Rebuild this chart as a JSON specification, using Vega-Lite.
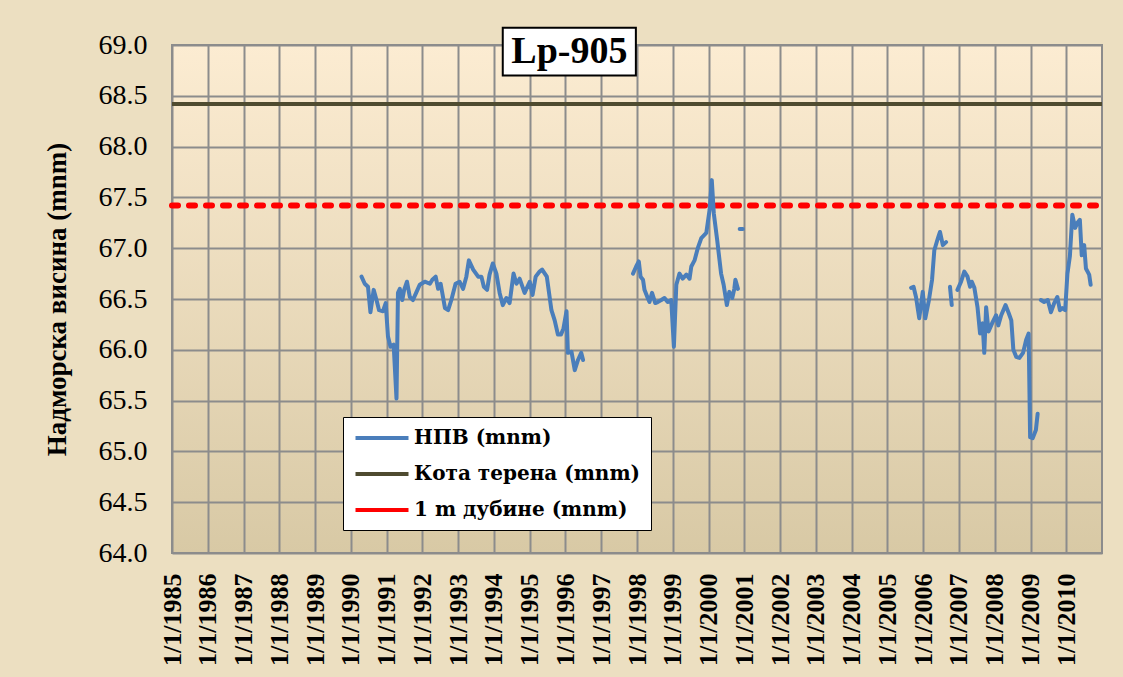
{
  "$schema": "https://vega.github.io/schema/vega-lite/v6.json",
  "width": 930,
  "height": 508,
  "autosize": {"type": "none"},
  "padding": {"left": 172, "top": 45, "right": 21, "bottom": 124},
  "background": "#ecdfc1",
  "config": {
    "view": {
      "stroke": "#8c8c8c",
      "strokeWidth": 2,
      "fill": {"gradient": "linear", "x1": 0, "y1": 0, "x2": 0, "y2": 1,
        "stops": [{"offset": 0, "color": "#fcecd2"}, {"offset": 1, "color": "#d8c9a5"}]}
    }
  },
  "datasets": {
    "series": [
      {"d": "1985-01-01", "v": 68.42, "s": "Кота терена (mnm)", "g": "k"},
      {"d": "2010-12-31", "v": 68.42, "s": "Кота терена (mnm)", "g": "k"},
      {"d": "1985-01-01", "v": 67.42, "s": "1 m дубине (mnm)", "g": "r"},
      {"d": "2010-12-31", "v": 67.42, "s": "1 m дубине (mnm)", "g": "r"},
      {"d": "1990-04-20", "v": 66.72, "s": "НПВ (mnm)", "g": "a"},
      {"d": "1990-05-23", "v": 66.65, "s": "НПВ (mnm)", "g": "a"},
      {"d": "1990-06-25", "v": 66.62, "s": "НПВ (mnm)", "g": "a"},
      {"d": "1990-07-20", "v": 66.37, "s": "НПВ (mnm)", "g": "a"},
      {"d": "1990-08-22", "v": 66.59, "s": "НПВ (mnm)", "g": "a"},
      {"d": "1990-09-20", "v": 66.49, "s": "НПВ (mnm)", "g": "a"},
      {"d": "1990-10-16", "v": 66.39, "s": "НПВ (mnm)", "g": "a"},
      {"d": "1990-11-25", "v": 66.38, "s": "НПВ (mnm)", "g": "a"},
      {"d": "1990-12-23", "v": 66.46, "s": "НПВ (mnm)", "g": "a"},
      {"d": "1991-01-15", "v": 66.13, "s": "НПВ (mnm)", "g": "a"},
      {"d": "1991-02-10", "v": 66.03, "s": "НПВ (mnm)", "g": "a"},
      {"d": "1991-03-14", "v": 66.05, "s": "НПВ (mnm)", "g": "a"},
      {"d": "1991-04-12", "v": 65.52, "s": "НПВ (mnm)", "g": "a"},
      {"d": "1991-04-27", "v": 66.56, "s": "НПВ (mnm)", "g": "a"},
      {"d": "1991-05-16", "v": 66.60, "s": "НПВ (mnm)", "g": "a"},
      {"d": "1991-06-10", "v": 66.49, "s": "НПВ (mnm)", "g": "a"},
      {"d": "1991-06-29", "v": 66.59, "s": "НПВ (mnm)", "g": "a"},
      {"d": "1991-07-28", "v": 66.67, "s": "НПВ (mnm)", "g": "a"},
      {"d": "1991-08-26", "v": 66.52, "s": "НПВ (mnm)", "g": "a"},
      {"d": "1991-09-27", "v": 66.49, "s": "НПВ (mnm)", "g": "a"},
      {"d": "1991-11-03", "v": 66.57, "s": "НПВ (mnm)", "g": "a"},
      {"d": "1991-12-05", "v": 66.64, "s": "НПВ (mnm)", "g": "a"},
      {"d": "1992-01-26", "v": 66.67, "s": "НПВ (mnm)", "g": "a"},
      {"d": "1992-03-18", "v": 66.65, "s": "НПВ (mnm)", "g": "a"},
      {"d": "1992-04-12", "v": 66.69, "s": "НПВ (mnm)", "g": "a"},
      {"d": "1992-05-16", "v": 66.72, "s": "НПВ (mnm)", "g": "a"},
      {"d": "1992-06-10", "v": 66.60, "s": "НПВ (mnm)", "g": "a"},
      {"d": "1992-07-06", "v": 66.65, "s": "НПВ (mnm)", "g": "a"},
      {"d": "1992-08-19", "v": 66.41, "s": "НПВ (mnm)", "g": "a"},
      {"d": "1992-09-20", "v": 66.39, "s": "НПВ (mnm)", "g": "a"},
      {"d": "1992-10-23", "v": 66.49, "s": "НПВ (mnm)", "g": "a"},
      {"d": "1992-12-05", "v": 66.65, "s": "НПВ (mnm)", "g": "a"},
      {"d": "1993-01-15", "v": 66.67, "s": "НПВ (mnm)", "g": "a"},
      {"d": "1993-02-20", "v": 66.60, "s": "НПВ (mnm)", "g": "a"},
      {"d": "1993-03-25", "v": 66.72, "s": "НПВ (mnm)", "g": "a"},
      {"d": "1993-04-20", "v": 66.88, "s": "НПВ (mnm)", "g": "a"},
      {"d": "1993-06-03", "v": 66.79, "s": "НПВ (mnm)", "g": "a"},
      {"d": "1993-07-24", "v": 66.72, "s": "НПВ (mnm)", "g": "a"},
      {"d": "1993-08-26", "v": 66.72, "s": "НПВ (mnm)", "g": "a"},
      {"d": "1993-09-20", "v": 66.62, "s": "НПВ (mnm)", "g": "a"},
      {"d": "1993-10-23", "v": 66.59, "s": "НПВ (mnm)", "g": "a"},
      {"d": "1993-11-17", "v": 66.74, "s": "НПВ (mnm)", "g": "a"},
      {"d": "1993-12-20", "v": 66.85, "s": "НПВ (mnm)", "g": "a"},
      {"d": "1994-01-26", "v": 66.75, "s": "НПВ (mnm)", "g": "a"},
      {"d": "1994-02-28", "v": 66.56, "s": "НПВ (mnm)", "g": "a"},
      {"d": "1994-04-01", "v": 66.44, "s": "НПВ (mnm)", "g": "a"},
      {"d": "1994-05-08", "v": 66.51, "s": "НПВ (mnm)", "g": "a"},
      {"d": "1994-06-10", "v": 66.46, "s": "НПВ (mnm)", "g": "a"},
      {"d": "1994-07-20", "v": 66.75, "s": "НПВ (mnm)", "g": "a"},
      {"d": "1994-08-19", "v": 66.65, "s": "НПВ (mnm)", "g": "a"},
      {"d": "1994-09-20", "v": 66.70, "s": "НПВ (mnm)", "g": "a"},
      {"d": "1994-11-10", "v": 66.56, "s": "НПВ (mnm)", "g": "a"},
      {"d": "1995-01-01", "v": 66.67, "s": "НПВ (mnm)", "g": "a"},
      {"d": "1995-01-30", "v": 66.54, "s": "НПВ (mnm)", "g": "a"},
      {"d": "1995-03-03", "v": 66.72, "s": "НПВ (mnm)", "g": "a"},
      {"d": "1995-04-12", "v": 66.77, "s": "НПВ (mnm)", "g": "a"},
      {"d": "1995-05-08", "v": 66.79, "s": "НПВ (mnm)", "g": "a"},
      {"d": "1995-06-25", "v": 66.72, "s": "НПВ (mnm)", "g": "a"},
      {"d": "1995-08-11", "v": 66.39, "s": "НПВ (mnm)", "g": "a"},
      {"d": "1995-09-13", "v": 66.29, "s": "НПВ (mnm)", "g": "a"},
      {"d": "1995-10-16", "v": 66.15, "s": "НПВ (mnm)", "g": "a"},
      {"d": "1995-11-17", "v": 66.15, "s": "НПВ (mnm)", "g": "a"},
      {"d": "1995-12-12", "v": 66.21, "s": "НПВ (mnm)", "g": "a"},
      {"d": "1996-01-12", "v": 66.38, "s": "НПВ (mnm)", "g": "a"},
      {"d": "1996-01-26", "v": 65.97, "s": "НПВ (mnm)", "g": "a"},
      {"d": "1996-03-03", "v": 65.98, "s": "НПВ (mnm)", "g": "a"},
      {"d": "1996-04-05", "v": 65.80, "s": "НПВ (mnm)", "g": "a"},
      {"d": "1996-05-08", "v": 65.90, "s": "НПВ (mnm)", "g": "a"},
      {"d": "1996-06-10", "v": 65.97, "s": "НПВ (mnm)", "g": "a"},
      {"d": "1996-06-29", "v": 65.90, "s": "НПВ (mnm)", "g": "a"},
      {"d": "1997-11-21", "v": 66.75, "s": "НПВ (mnm)", "g": "b"},
      {"d": "1997-12-23", "v": 66.82, "s": "НПВ (mnm)", "g": "b"},
      {"d": "1998-01-19", "v": 66.87, "s": "НПВ (mnm)", "g": "b"},
      {"d": "1998-02-06", "v": 66.72, "s": "НПВ (mnm)", "g": "b"},
      {"d": "1998-03-03", "v": 66.69, "s": "НПВ (mnm)", "g": "b"},
      {"d": "1998-03-18", "v": 66.59, "s": "НПВ (mnm)", "g": "b"},
      {"d": "1998-04-20", "v": 66.51, "s": "НПВ (mnm)", "g": "b"},
      {"d": "1998-05-08", "v": 66.47, "s": "НПВ (mnm)", "g": "b"},
      {"d": "1998-06-03", "v": 66.56, "s": "НПВ (mnm)", "g": "b"},
      {"d": "1998-07-06", "v": 66.46, "s": "НПВ (mnm)", "g": "b"},
      {"d": "1998-07-31", "v": 66.47, "s": "НПВ (mnm)", "g": "b"},
      {"d": "1998-09-06", "v": 66.49, "s": "НПВ (mnm)", "g": "b"},
      {"d": "1998-10-08", "v": 66.51, "s": "НПВ (mnm)", "g": "b"},
      {"d": "1998-11-10", "v": 66.47, "s": "НПВ (mnm)", "g": "b"},
      {"d": "1998-12-16", "v": 66.49, "s": "НПВ (mnm)", "g": "b"},
      {"d": "1999-01-12", "v": 66.03, "s": "НПВ (mnm)", "g": "b"},
      {"d": "1999-02-06", "v": 66.64, "s": "НПВ (mnm)", "g": "b"},
      {"d": "1999-03-10", "v": 66.75, "s": "НПВ (mnm)", "g": "b"},
      {"d": "1999-04-12", "v": 66.70, "s": "НПВ (mnm)", "g": "b"},
      {"d": "1999-05-19", "v": 66.74, "s": "НПВ (mnm)", "g": "b"},
      {"d": "1999-06-21", "v": 66.70, "s": "НПВ (mnm)", "g": "b"},
      {"d": "1999-07-09", "v": 66.82, "s": "НПВ (mnm)", "g": "b"},
      {"d": "1999-08-11", "v": 66.88, "s": "НПВ (mnm)", "g": "b"},
      {"d": "1999-09-13", "v": 67.00, "s": "НПВ (mnm)", "g": "b"},
      {"d": "1999-10-19", "v": 67.10, "s": "НПВ (mnm)", "g": "b"},
      {"d": "1999-12-09", "v": 67.15, "s": "НПВ (mnm)", "g": "b"},
      {"d": "2000-01-12", "v": 67.38, "s": "НПВ (mnm)", "g": "b"},
      {"d": "2000-02-03", "v": 67.67, "s": "НПВ (mnm)", "g": "b"},
      {"d": "2000-02-24", "v": 67.34, "s": "НПВ (mnm)", "g": "b"},
      {"d": "2000-03-29", "v": 67.08, "s": "НПВ (mnm)", "g": "b"},
      {"d": "2000-05-08", "v": 66.75, "s": "НПВ (mnm)", "g": "b"},
      {"d": "2000-06-03", "v": 66.64, "s": "НПВ (mnm)", "g": "b"},
      {"d": "2000-07-06", "v": 66.44, "s": "НПВ (mnm)", "g": "b"},
      {"d": "2000-07-31", "v": 66.57, "s": "НПВ (mnm)", "g": "b"},
      {"d": "2000-08-30", "v": 66.51, "s": "НПВ (mnm)", "g": "b"},
      {"d": "2000-09-20", "v": 66.60, "s": "НПВ (mnm)", "g": "b"},
      {"d": "2000-10-01", "v": 66.69, "s": "НПВ (mnm)", "g": "b"},
      {"d": "2000-10-27", "v": 66.60, "s": "НПВ (mnm)", "g": "b"},
      {"d": "2000-11-14", "v": 67.19, "s": "НПВ (mnm)", "g": "c"},
      {"d": "2000-12-16", "v": 67.19, "s": "НПВ (mnm)", "g": "c"},
      {"d": "2005-08-30", "v": 66.61, "s": "НПВ (mnm)", "g": "d"},
      {"d": "2005-09-24", "v": 66.62, "s": "НПВ (mnm)", "g": "d"},
      {"d": "2005-10-19", "v": 66.52, "s": "НПВ (mnm)", "g": "d"},
      {"d": "2005-11-21", "v": 66.31, "s": "НПВ (mnm)", "g": "d"},
      {"d": "2005-12-27", "v": 66.57, "s": "НПВ (mnm)", "g": "d"},
      {"d": "2006-01-22", "v": 66.31, "s": "НПВ (mnm)", "g": "d"},
      {"d": "2006-02-28", "v": 66.49, "s": "НПВ (mnm)", "g": "d"},
      {"d": "2006-04-01", "v": 66.69, "s": "НПВ (mnm)", "g": "d"},
      {"d": "2006-04-24", "v": 66.98, "s": "НПВ (mnm)", "g": "d"},
      {"d": "2006-05-31", "v": 67.10, "s": "НПВ (mnm)", "g": "d"},
      {"d": "2006-06-21", "v": 67.16, "s": "НПВ (mnm)", "g": "d"},
      {"d": "2006-07-20", "v": 67.03, "s": "НПВ (mnm)", "g": "d"},
      {"d": "2006-08-22", "v": 67.06, "s": "НПВ (mnm)", "g": "d"},
      {"d": "2006-10-01", "v": 66.62, "s": "НПВ (mnm)", "g": "e"},
      {"d": "2006-10-19", "v": 66.44, "s": "НПВ (mnm)", "g": "e"},
      {"d": "2006-12-16", "v": 66.59, "s": "НПВ (mnm)", "g": "f"},
      {"d": "2007-01-22", "v": 66.67, "s": "НПВ (mnm)", "g": "f"},
      {"d": "2007-02-24", "v": 66.77, "s": "НПВ (mnm)", "g": "f"},
      {"d": "2007-03-29", "v": 66.72, "s": "НПВ (mnm)", "g": "f"},
      {"d": "2007-04-24", "v": 66.62, "s": "НПВ (mnm)", "g": "f"},
      {"d": "2007-05-12", "v": 66.67, "s": "НПВ (mnm)", "g": "f"},
      {"d": "2007-06-07", "v": 66.61, "s": "НПВ (mnm)", "g": "f"},
      {"d": "2007-07-09", "v": 66.42, "s": "НПВ (mnm)", "g": "f"},
      {"d": "2007-08-04", "v": 66.16, "s": "НПВ (mnm)", "g": "f"},
      {"d": "2007-08-30", "v": 66.26, "s": "НПВ (mnm)", "g": "f"},
      {"d": "2007-09-16", "v": 65.97, "s": "НПВ (mnm)", "g": "f"},
      {"d": "2007-10-05", "v": 66.42, "s": "НПВ (mnm)", "g": "f"},
      {"d": "2007-10-30", "v": 66.18, "s": "НПВ (mnm)", "g": "f"},
      {"d": "2007-12-09", "v": 66.27, "s": "НПВ (mnm)", "g": "f"},
      {"d": "2008-01-15", "v": 66.34, "s": "НПВ (mnm)", "g": "f"},
      {"d": "2008-02-06", "v": 66.24, "s": "НПВ (mnm)", "g": "f"},
      {"d": "2008-03-07", "v": 66.34, "s": "НПВ (mnm)", "g": "f"},
      {"d": "2008-04-20", "v": 66.44, "s": "НПВ (mnm)", "g": "f"},
      {"d": "2008-05-23", "v": 66.36, "s": "НПВ (mnm)", "g": "f"},
      {"d": "2008-06-18", "v": 66.29, "s": "НПВ (mnm)", "g": "f"},
      {"d": "2008-07-09", "v": 66.00, "s": "НПВ (mnm)", "g": "f"},
      {"d": "2008-08-08", "v": 65.93, "s": "НПВ (mnm)", "g": "f"},
      {"d": "2008-09-09", "v": 65.92, "s": "НПВ (mnm)", "g": "f"},
      {"d": "2008-10-16", "v": 65.97, "s": "НПВ (mnm)", "g": "f"},
      {"d": "2008-11-17", "v": 66.10, "s": "НПВ (mnm)", "g": "f"},
      {"d": "2008-12-12", "v": 66.16, "s": "НПВ (mnm)", "g": "f"},
      {"d": "2008-12-27", "v": 65.14, "s": "НПВ (mnm)", "g": "f"},
      {"d": "2009-01-22", "v": 65.13, "s": "НПВ (mnm)", "g": "f"},
      {"d": "2009-02-24", "v": 65.21, "s": "НПВ (mnm)", "g": "f"},
      {"d": "2009-03-14", "v": 65.37, "s": "НПВ (mnm)", "g": "f"},
      {"d": "2009-04-16", "v": 66.49, "s": "НПВ (mnm)", "g": "h"},
      {"d": "2009-05-19", "v": 66.47, "s": "НПВ (mnm)", "g": "h"},
      {"d": "2009-06-25", "v": 66.49, "s": "НПВ (mnm)", "g": "h"},
      {"d": "2009-07-28", "v": 66.37, "s": "НПВ (mnm)", "g": "h"},
      {"d": "2009-08-30", "v": 66.46, "s": "НПВ (mnm)", "g": "h"},
      {"d": "2009-10-01", "v": 66.52, "s": "НПВ (mnm)", "g": "h"},
      {"d": "2009-10-27", "v": 66.39, "s": "НПВ (mnm)", "g": "h"},
      {"d": "2009-11-21", "v": 66.41, "s": "НПВ (mnm)", "g": "h"},
      {"d": "2009-12-20", "v": 66.39, "s": "НПВ (mnm)", "g": "h"},
      {"d": "2010-01-12", "v": 66.75, "s": "НПВ (mnm)", "g": "h"},
      {"d": "2010-02-06", "v": 66.92, "s": "НПВ (mnm)", "g": "h"},
      {"d": "2010-03-03", "v": 67.33, "s": "НПВ (mnm)", "g": "h"},
      {"d": "2010-04-01", "v": 67.20, "s": "НПВ (mnm)", "g": "h"},
      {"d": "2010-04-24", "v": 67.25, "s": "НПВ (mnm)", "g": "h"},
      {"d": "2010-05-19", "v": 67.28, "s": "НПВ (mnm)", "g": "h"},
      {"d": "2010-06-07", "v": 66.93, "s": "НПВ (mnm)", "g": "h"},
      {"d": "2010-07-02", "v": 67.03, "s": "НПВ (mnm)", "g": "h"},
      {"d": "2010-07-20", "v": 66.80, "s": "НПВ (mnm)", "g": "h"},
      {"d": "2010-08-22", "v": 66.74, "s": "НПВ (mnm)", "g": "h"},
      {"d": "2010-09-06", "v": 66.64, "s": "НПВ (mnm)", "g": "h"}
    ]
  },
  "layer": [
    {
      "data": {"name": "series"},
      "transform": [{"filter": "datum.s === 'Кота терена (mnm)'"}],
      "mark": {"type": "line", "strokeWidth": 4},
      "encoding": {
        "x": {
          "field": "d", "type": "temporal",
          "scale": {"domain": [{"year": 1985, "month": 1, "date": 1}, {"year": 2010, "month": 12, "date": 31}]},
          "axis": {
            "title": null, "format": "%-m/%-d/%Y",
            "tickCount": {"interval": "year", "step": 1},
            "labelAngle": -90, "labelAlign": "right", "labelBaseline": "middle",
            "labelPadding": 20, "labelFont": "Liberation Serif", "labelFontSize": 26,
            "labelFontWeight": "bold", "labelColor": "black",
            "labelOverlap": false, "labelFlush": false,
            "ticks": false, "domain": false,
            "grid": true, "gridColor": "#8c8c8c", "gridWidth": 2
          }
        },
        "y": {
          "field": "v", "type": "quantitative",
          "scale": {"domain": [64, 69], "nice": false, "zero": false},
          "axis": {
            "values": [64, 64.5, 65, 65.5, 66, 66.5, 67, 67.5, 68, 68.5, 69],
            "format": ".1f", "labelFont": "Liberation Serif", "labelFontSize": 28,
            "labelColor": "black", "labelPadding": 25, "labelFlush": false,
            "ticks": false, "domain": false,
            "grid": true, "gridColor": "#8c8c8c", "gridWidth": 2,
            "title": "Надморска висина (mnm)", "titleFont": "Liberation Serif",
            "titleFontSize": 27, "titleFontWeight": "bold", "titleColor": "black",
            "titlePadding": 27
          }
        },
        "color": {
          "field": "s", "type": "nominal",
          "scale": {
            "domain": ["НПВ (mnm)", "Кота терена (mnm)", "1 m дубине (mnm)"],
            "range": ["#4a7ebb", "#4f4b30", "#ff0000"]
          },
          "legend": {
            "orient": "none", "legendX": 171, "legendY": 372, "title": null,
            "fillColor": "white", "strokeColor": "black", "padding": 10,
            "symbolType": "M-3,0H3", "symbolSize": 312, "symbolOffset": 18,
            "symbolStrokeWidth": 4, "labelOffset": 21, "labelLimit": 500,
            "labelFont": "DejaVu Serif", "labelFontSize": 20, "labelFontWeight": "bold",
            "labelColor": "black", "rowPadding": 15
          }
        }
      }
    },
    {
      "data": {"name": "series"},
      "transform": [{"filter": "datum.s === '1 m дубине (mnm)'"}],
      "mark": {"type": "line", "strokeWidth": 6, "strokeDash": [6, 11], "strokeCap": "round"},
      "encoding": {
        "x": {"field": "d", "type": "temporal"},
        "y": {"field": "v", "type": "quantitative"},
        "color": {"field": "s", "type": "nominal"}
      }
    },
    {
      "data": {"name": "series"},
      "transform": [{"filter": "datum.s === 'НПВ (mnm)'"}],
      "mark": {"type": "line", "strokeWidth": 4, "strokeJoin": "round", "strokeCap": "round"},
      "encoding": {
        "x": {"field": "d", "type": "temporal"},
        "y": {"field": "v", "type": "quantitative"},
        "color": {"field": "s", "type": "nominal"},
        "detail": {"field": "g", "type": "nominal"}
      }
    },
    {
      "data": {"values": [{}]},
      "mark": {"type": "rect", "fill": "white", "stroke": "black", "strokeWidth": 2},
      "encoding": {
        "x": {"datum": {"year": 1994, "month": 4, "date": 1}, "type": "temporal"},
        "x2": {"datum": {"year": 1997, "month": 12, "date": 20}},
        "y": {"datum": 69.17, "type": "quantitative"},
        "y2": {"datum": 68.70}
      }
    },
    {
      "data": {"values": [{}]},
      "mark": {"type": "text", "text": "Lp-905", "font": "Liberation Serif", "fontSize": 38, "fontWeight": "bold", "color": "black", "align": "center", "baseline": "middle"},
      "encoding": {
        "x": {"datum": {"year": 1996, "month": 2, "date": 10}, "type": "temporal"},
        "y": {"datum": 68.935, "type": "quantitative"}
      }
    }
  ]
}
